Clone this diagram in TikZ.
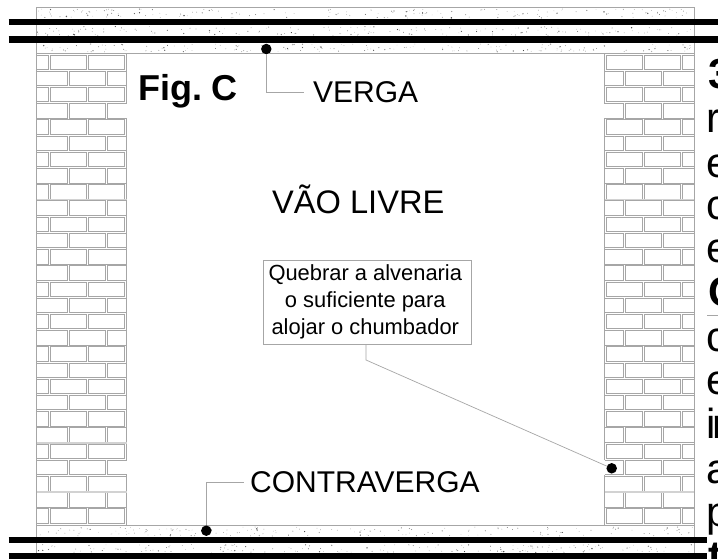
\documentclass[tikz,border=0pt]{standalone}
\usepackage{fontspec}
\setmainfont{Liberation Sans}
\definecolor{ln}{gray}{0.65}
\tikzset{
  brick/.style={draw=ln,line width=0.85pt},
  edgeline/.style={draw=ln,line width=0.85pt},
  leader/.style={draw=gray!70,line width=0.7pt},
  rebar/.style={draw=black,line width=6.6pt},
  blob/.style={circle,fill=black,inner sep=0pt,minimum size=10.5pt},
  lbl/.style={inner ysep=0pt,inner xsep=0pt,font=\fontsize{30}{30}\selectfont,anchor=base west},
  sidebig/.style={inner sep=0pt,anchor=base west,font=\fontsize{42}{42}\selectfont}
}
\newcommand{\brk}[4]{\draw[brick] (#1,#2) rectangle (#3,#4);}
\begin{document}
\begin{tikzpicture}[x=1pt,y=-1pt]
\useasboundingbox (0,0) rectangle (718,559);
\clip (0,0) rectangle (718,559);
\fill[white] (0,0) rectangle (718,559);
% brick walls
\foreach \i in {0,...,28}{
  \pgfmathsetmacro{\ya}{55+16.21*\i}
  \pgfmathsetmacro{\yb}{\ya+14.5}
  \ifodd\i\relax
    \brk{36}{\ya}{67.5}{\yb}
    \brk{69.5}{\ya}{105.5}{\yb}
    \brk{625.3}{\ya}{661.3}{\yb}
    \brk{663.3}{\ya}{694.5}{\yb}
    \pgfmathtruncatemacro{\isopen}{(\i==3)||(\i==25)}
    \ifnum\isopen=1\relax
      \draw[brick] (126.5,\ya) -- (107.5,\ya) -- (107.5,\yb) -- (126.5,\yb);
      \draw[brick] (604.7,\ya) -- (623.3,\ya) -- (623.3,\yb) -- (604.7,\yb);
    \else
      \brk{107.5}{\ya}{126.5}{\yb}
      \brk{604.7}{\ya}{623.3}{\yb}
    \fi
  \else
    \brk{36}{\ya}{48.5}{\yb}
    \brk{50.5}{\ya}{86.5}{\yb}
    \brk{644.3}{\ya}{680.3}{\yb}
    \brk{682.3}{\ya}{694.5}{\yb}
    \pgfmathtruncatemacro{\iswide}{(\i==12)||(\i==26)}
    \ifnum\iswide=1\relax
      \brk{88.5}{\ya}{126.5}{\yb}
      \brk{604.7}{\ya}{642.3}{\yb}
    \else
      \brk{88.5}{\ya}{124.7}{\yb}
      \brk{606}{\ya}{642.3}{\yb}
    \fi
  \fi
}
% wall edges
\draw[edgeline] (126.5,53) -- (126.5,103.63) (126.5,118.13) -- (126.5,460.25) (126.5,474.75) -- (126.5,525.5);
\draw[edgeline] (604.7,53) -- (604.7,103.63) (604.7,118.13) -- (604.7,460.25) (604.7,474.75) -- (604.7,525.5);
% paler joints
\foreach \yy in {199.5,443,492}{
  \draw[gray!35,line width=1.6pt] (36,\yy) -- (126.5,\yy);
}
\draw[gray!35,line width=1.6pt] (605,199.5) -- (694,199.5);
\draw[gray!35,line width=1.6pt] (605,492) -- (694,492);
% concrete bands
\fill[white] (36,7.5) rectangle (694.5,53);
\fill[white] (36,525.5) rectangle (694.5,559);
\draw[edgeline] (36,559) -- (36,7.5) -- (694.5,7.5) -- (694.5,559);
\draw[edgeline] (36,53) -- (694.5,53);
\draw[edgeline] (36,525.5) -- (694.5,525.5);
\pgfmathsetseed{41}
\foreach \ba/\bb/\cnt in {9/18/170,26.5/35.5/170,44/52/170,527/536/170,544.5/552.5/170}{
  \foreach \n in {1,...,\cnt}{
    \pgfmathsetmacro{\px}{37+656*rnd}
    \pgfmathsetmacro{\py}{\ba+(\bb-\ba)*rnd}
    \pgfmathsetmacro{\pr}{0.28+0.55*rnd*rnd}
    \pgfmathsetmacro{\pg}{30+50*rnd}
    \fill[black!\pg] (\px,\py) circle (\pr);
  }
}
% reinforcement lines
\draw[rebar] (8.7,22) -- (718,22);
\draw[rebar] (8.7,39.3) -- (718,39.3);
\draw[rebar] (8.7,540) -- (707,540);
\draw[rebar] (8.7,556.6) -- (707,556.6);
% texts and callouts
\node[inner sep=0pt,anchor=base west,font=\bfseries\fontsize{36}{36}\selectfont] (figc) at (138,100.5) {Fig.\kern-1pt\ C};
\node[lbl,inner xsep=9pt] (verga) at (304,103) {VERGA};
\node[lbl,font=\fontsize{32.6}{33}\selectfont] (vao) at (272,213.5) {VÃO LIVRE};
\node[lbl,inner xsep=6pt] (contra) at (244,492.5) {CONTRAVERGA};
\node[draw=ln,line width=0.8pt,fill=white,align=center,inner sep=0pt,minimum width=207.5pt,minimum height=84pt,
  font=\fontsize{21.9}{27}\selectfont] (box) at (367.3,302) {\kern-4pt Quebrar a alvenaria\\\kern-4pt o suficiente para\\\kern-4pt alojar o chumbador};
\node[blob] (dotv) at (266.3,49) {};
\node[blob] (dotc) at (206.3,530.7) {};
\node[blob] (dotb) at (611.7,468.3) {};
\coordinate (knee) at (366,360);
\draw[leader] (dotv) |- (verga.west);
\draw[leader] (dotc) |- (contra.west);
\draw[leader] (box.south -| knee) -- (knee) -- (dotb);
% clipped text at right edge
\foreach \yy/\tt in {133/r,178/e,219.5/c,262/e,351/c,394/e,483/a,526/p}{
  \node[sidebig] (s\yy) at (706.5,\yy) {\tt};
}
\node[sidebig] (sin) at (706,438) {i\kern-3.5pt n};
\node[sidebig,font=\bfseries\fontsize{42}{42}\selectfont] (s3) at (708.5,89) {3};
\node[sidebig,font=\bfseries\fontsize{42}{42}\selectfont] (sC) at (708,306) {C};
\node[sidebig,font=\bfseries\fontsize{42}{42}\selectfont] (st) at (708,570) {t};
\draw[draw=gray!70,line width=0.7pt] (707,315) -- (718,315);
\end{tikzpicture}
\end{document}
